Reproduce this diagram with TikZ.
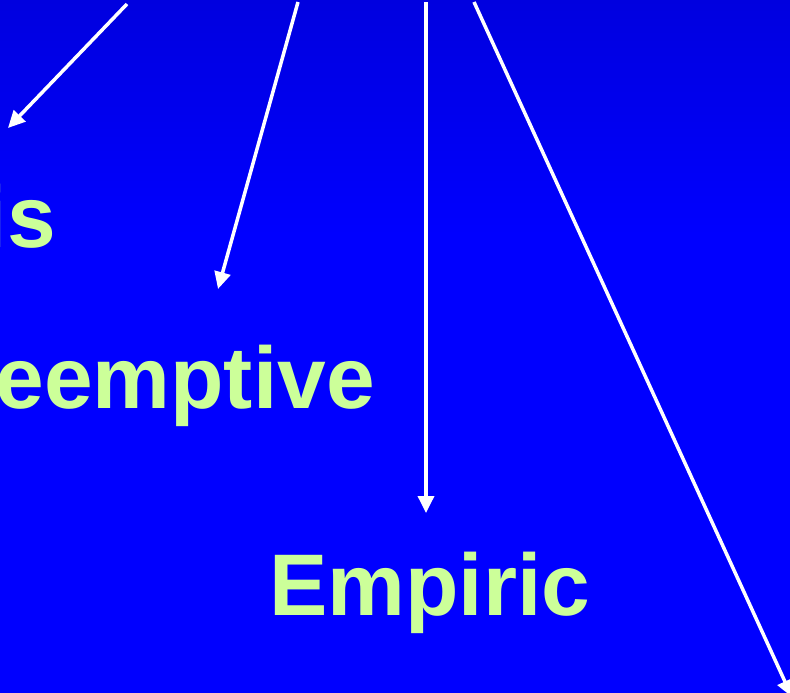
\documentclass[tikz,border=0pt]{standalone}
\usepackage{fontspec}
\setmainfont{Liberation Sans}
\usetikzlibrary{arrows.meta}

\definecolor{slidetop}{RGB}{0,0,176}
\definecolor{slidemid}{RGB}{0,0,255}
\definecolor{slidebot}{RGB}{0,0,205}
\definecolor{termgreen}{RGB}{204,255,153}
\pgfdeclareverticalshading{slidebg}{100bp}{color(0bp)=(slidebot); color(25bp)=(slidemid); color(58bp)=(slidemid); color(100bp)=(slidetop)}

\tikzset{
  term/.style={text=termgreen, inner sep=0pt, font=\fontsize{87.5}{100}\selectfont\bfseries},
  pointer/.style={draw=white, line width=3.5pt, -{Triangle[length=17pt,width=16pt]}}
}

\begin{document}
\begin{tikzpicture}[x=1pt, y=-1pt]
\useasboundingbox (0,0) rectangle (790,693);
\clip (0,0) rectangle (790,693);
\shade[shading=slidebg] (0,0) rectangle (790,693);

   % terms
   \node[term, anchor=base east] (is) at (56,247) {is};
   \node[term, anchor=base east] (preempt) at (375,408) {eemptive};
   \node[term, anchor=base west] (empiric) at (269,615) {Empiric};

   % arrow ends
   \coordinate (a1) at (127,4);  \coordinate (b1) at (8,128);
   \coordinate (a2) at (298,2);  \coordinate (b2) at (218,289);
   \coordinate (a3) at (426,2);  \coordinate (b3) at (426,513);
   \coordinate (a4) at (474,2);  \coordinate (b4) at (792,697);

   \draw[pointer] (a1) -- (b1);
   \draw[pointer] (a2) -- (b2);
   \draw[pointer] (a3) -- (b3);
   \draw[pointer] (a4) -- (b4);
\end{tikzpicture}
\end{document}
